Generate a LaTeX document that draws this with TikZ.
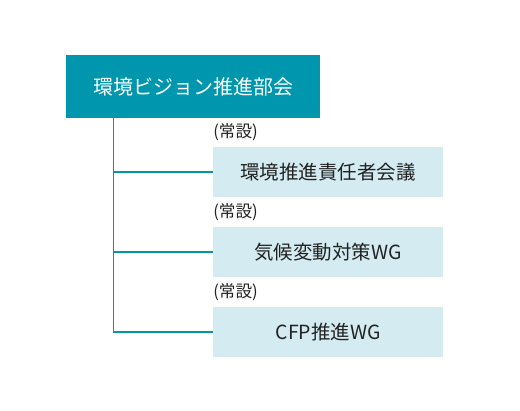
\documentclass[tikz,border=0pt]{standalone}
\usepackage{fontspec}
\setmainfont{Noto Sans CJK JP}
\usepackage{xcolor}
\definecolor{headteal}{RGB}{0, 150, 174}
\definecolor{childbg}{RGB}{211, 235, 241}
\definecolor{textdark}{RGB}{34, 34, 34}
\usetikzlibrary{positioning, calc}
\tikzstyle{headbox} = [
    rectangle,
    fill=headteal,
    text=white,
    minimum width=190.5pt,
    minimum height=47.25pt,
    inner sep=0pt,
    font=\fontsize{15pt}{17pt}\selectfont
]
\tikzstyle{childbox} = [
    rectangle,
    fill=childbg,
    text=textdark,
    minimum width=172.5pt,
    minimum height=37.5pt,
    inner sep=0pt,
    font=\fontsize{14.6pt}{16pt}\selectfont
]
\tikzstyle{tag} = [
    anchor=west,
    inner sep=0pt,
    text=textdark,
    font=\fontsize{12.5pt}{14pt}\selectfont
]
\tikzstyle{branch} = [
    draw=headteal,
    line width=0.9pt
]
\begin{document}
\begin{tikzpicture}[x=0.75pt, y=-0.75pt]
    % Canvas
    \useasboundingbox (0,0) rectangle (520,410);

    % Head
    \node[headbox] (head) at (193,86.5) {環境ビジョン推進部会};

    % Children
    \node[childbox] (council) at (328,172) {環境推進責任者会議};
    \node[childbox] (climate) at (328,252) {気候変動対策WG};
    \node[childbox] (cfp) at (328,332) {CFP推進WG};

    % Tags
    \node[tag] (tagcouncil) at (213,132) {(常設)};
    \node[tag] (tagclimate) at (213,212) {(常設)};
    \node[tag] (tagcfp) at (213,292) {(常設)};

    % Trunk
    \coordinate (trunk) at ($(head.south west)+(48,0)$);
    \draw[branch] (trunk) |- (cfp.west);
    \draw[branch] (trunk |- council.west) -- (council.west);
    \draw[branch] (trunk |- climate.west) -- (climate.west);
\end{tikzpicture}
\end{document}
